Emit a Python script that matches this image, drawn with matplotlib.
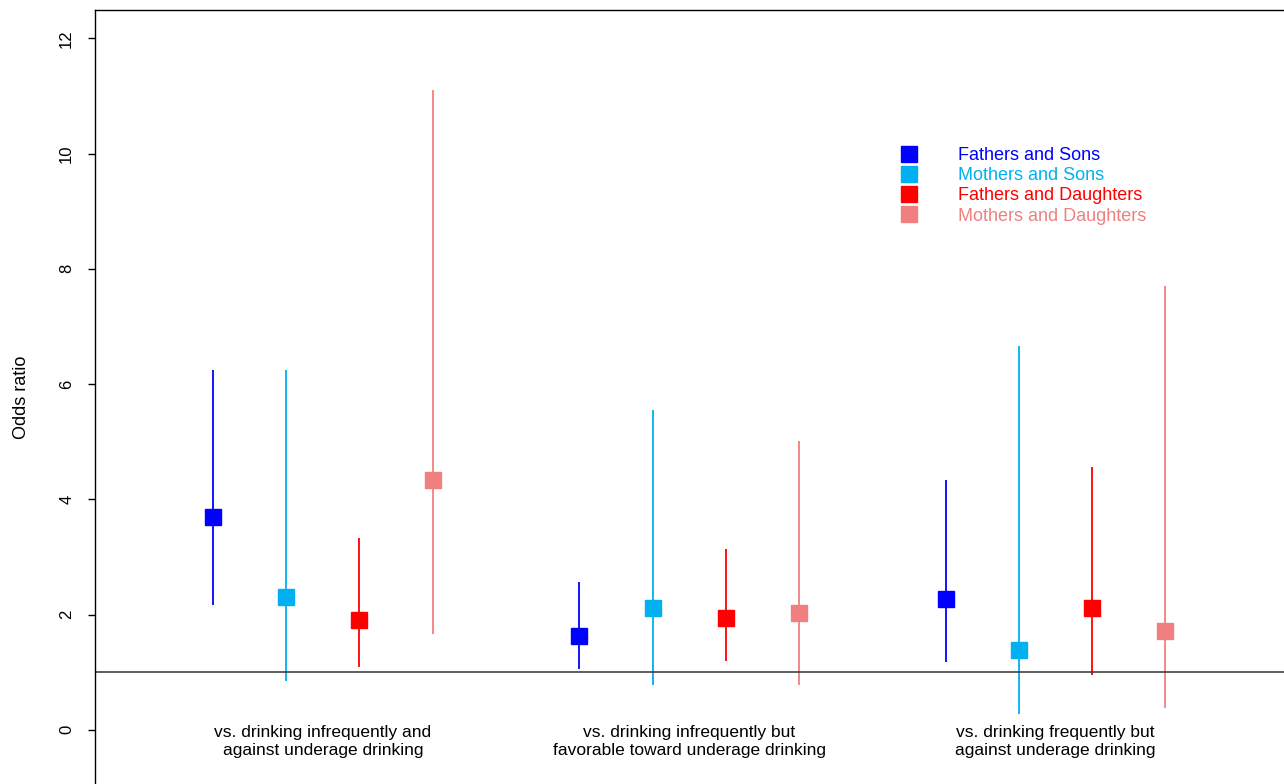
import matplotlib
matplotlib.use("Agg")
import matplotlib.pyplot as plt
from matplotlib.lines import Line2D

plt.rcParams["font.family"] = ["Liberation Sans", "DejaVu Sans"]

# Comparison groups (x-axis text labels)
GROUPS = [
    "vs. drinking infrequently and\nagainst underage drinking",
    "vs. drinking infrequently but\nfavorable toward underage drinking",
    "vs. drinking frequently but\nagainst underage drinking",
]
SERIES = ["Fathers and Sons", "Mothers and Sons",
          "Fathers and Daughters", "Mothers and Daughters"]
COLORS = ["#0000FF", "#00B0F0", "#FF0000", "#F08080"]

# odds ratio, lower CI, upper CI per series (one value per group)
OR_VALUES = [
    [3.69, 1.63, 2.27],
    [2.31, 2.12, 1.39],
    [1.91, 1.94, 2.12],
    [4.34, 2.03, 1.72],
]
CI_LOWER = [
    [2.17, 1.06, 1.18],
    [0.85, 0.78, 0.28],
    [1.09, 1.20, 0.95],
    [1.66, 0.78, 0.38],
]
CI_UPPER = [
    [6.24, 2.57, 4.34],
    [6.24, 5.55, 6.66],
    [3.33, 3.14, 4.56],
    [11.10, 5.01, 7.70],
]

fig = plt.figure(figsize=(12.84, 7.84), dpi=100)
ax = fig.add_axes([95 / 1284, 0.0, 1 - 95 / 1284, 1 - 10 / 784])

group_gap = len(SERIES) + 1
for si, name in enumerate(SERIES):
    xs = [gi * group_gap + si + 1 for gi in range(len(GROUPS))]
    ax.vlines(xs, CI_LOWER[si], CI_UPPER[si], color=COLORS[si], lw=1.3)
    ax.plot(xs, OR_VALUES[si], ls="none", marker="s", ms=11.5,
            color=COLORS[si], mec=COLORS[si])

ax.axhline(1, color="#333333", lw=1.1)

for gi, label in enumerate(GROUPS):
    xc = gi * group_gap + (len(SERIES) + 1) / 2
    ax.text(xc, -0.2, label, ha="center", va="center", fontsize=12.5,
            linespacing=1.3)

ax.set_xlim(-0.61, 15.62)
ax.set_ylim(-0.94, 12.49)
ax.set_yticks(range(0, 13, 2))
ax.tick_params(axis="y", labelrotation=90, length=5, pad=10, labelsize=12,
               width=1)
for t in ax.get_yticklabels():
    t.set_va("center")
ax.set_xticks([])
ax.spines["right"].set_visible(False)
ax.spines["bottom"].set_visible(False)
ax.spines["left"].set_linewidth(1)
ax.spines["top"].set_linewidth(1)
ax.set_ylabel("Odds ratio", fontsize=13, labelpad=21)

handles = [Line2D([], [], ls="none", marker="s", ms=11.5, color=c, mec=c)
           for c in COLORS]
ax.legend(handles, SERIES, loc="upper left",
          bbox_to_anchor=(900 / 1284, 1 - 147 / 784),
          bbox_transform=fig.transFigure, frameon=False, fontsize=13,
          handlelength=1.0, handletextpad=2.2, labelspacing=0.18,
          borderpad=0, borderaxespad=0, labelcolor=COLORS)

fig.savefig("out.png", dpi=100)
